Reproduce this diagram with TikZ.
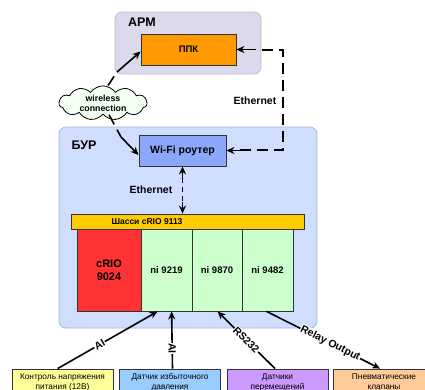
\documentclass[tikz,border=0pt]{standalone}
\usepackage{fontspec}
\setmainfont{Liberation Sans}
\usetikzlibrary{shapes.symbols,arrows.meta,calc}
\definecolor{armbg}{RGB}{218,218,236}
\definecolor{armbd}{RGB}{185,185,210}
\definecolor{burbg}{RGB}{207,221,255}
\definecolor{burbd}{RGB}{165,180,220}
\definecolor{ppkc}{RGB}{255,153,0}
\definecolor{wific}{RGB}{140,166,250}
\definecolor{chasc}{RGB}{255,204,0}
\definecolor{crioc}{RGB}{255,51,51}
\definecolor{modc}{RGB}{204,255,204}
\definecolor{boxa}{RGB}{255,255,153}
\definecolor{boxb}{RGB}{153,204,255}
\definecolor{boxc}{RGB}{204,153,255}
\definecolor{boxd}{RGB}{255,204,153}
\definecolor{cloudc}{RGB}{242,255,242}
\begin{document}
\begin{tikzpicture}[x=1pt,y=-1pt,
  group/.style={rounded corners=7pt, line width=0.8pt},
  blk/.style={draw=black!80, line width=0.8pt, inner sep=0pt, align=center, font=\bfseries},
  sensor/.style={draw=black!80, line width=0.8pt, minimum width=101pt, minimum height=26pt, inner sep=0pt, align=center, font=\fontsize{8.3}{10}\selectfont},
  arr/.style={line width=1.6pt, -{Stealth[length=8pt,width=7pt]}},
  darr/.style={line width=1.6pt, dash pattern=on 11pt off 6pt},
  lbl/.style={font=\bfseries\fontsize{10.5}{12}\selectfont, fill=white, inner sep=0.6pt},
  ttl/.style={font=\bfseries\fontsize{12.5}{14}\selectfont, inner sep=0pt}
]
\useasboundingbox (0,0) rectangle (425,389);
\clip (0,0) rectangle (425,389);
% groups
\node[group, draw=armbd, fill=armbg, minimum width=146pt, minimum height=62pt] (arm) at (188,43) {};
\node[ttl] (armt) at (142,22) {АРМ};
\node[group, draw=burbd, fill=burbg, minimum width=258pt, minimum height=201pt] (bur) at (188,227.5) {};
\node[ttl] (burt) at (84,145) {БУР};
% blocks
\node[blk, fill=ppkc, minimum width=95pt, minimum height=31pt, font=\bfseries\fontsize{9.5}{11}\selectfont] (ppk) at (188.5,49.5) {ППК};
\node[blk, fill=wific, minimum width=87pt, minimum height=31pt, font=\bfseries\fontsize{10.5}{12}\selectfont] (wifi) at (182.5,150.5) {Wi-Fi роутер};
\node[blk, fill=chasc, minimum width=233pt, minimum height=15pt] (chas) at (187.5,221.5) {};
\node[font=\bfseries\fontsize{8.5}{10}\selectfont, inner sep=0pt] (chast) at (147,221.5) {Шасси cRIO 9113};
\node[blk, fill=crioc, minimum width=64pt, minimum height=82pt, font=\bfseries\fontsize{11}{13}\selectfont] (crio) at (109,270) {cRIO\\9024};
\node[blk, fill=modc, minimum width=51pt, minimum height=82pt, font=\bfseries\fontsize{9.5}{11}\selectfont] (m1) at (166.5,270) {ni 9219};
\node[blk, fill=modc, minimum width=50pt, minimum height=82pt, font=\bfseries\fontsize{9.5}{11}\selectfont] (m2) at (217,270) {ni 9870};
\node[blk, fill=modc, minimum width=51pt, minimum height=82pt, font=\bfseries\fontsize{9.5}{11}\selectfont] (m3) at (267.5,270) {ni 9482};
% cloud
\node[cloud, cloud puffs=11, cloud puff arc=110, aspect=2.6, draw=black, line width=0.8pt, fill=cloudc, minimum width=88pt, minimum height=34pt, inner sep=0pt, align=center, font=\bfseries\fontsize{8.8}{10}\selectfont] (cl) at (103,103) {wireless\\connection};
% sensors
\node[sensor, fill=boxa] (s1) at (62.5,382) {Контроль напряжения\\питания (12В)};
\node[sensor, fill=boxb] (s2) at (170,382) {Датчик избыточного\\давления};
\node[sensor, fill=boxc] (s3) at (277.5,382) {Датчики\\перемещений};
\node[sensor, fill=boxd] (s4) at (384,382) {Пневматические\\клапаны};
% wireless links
\coordinate (w1) at (117,72);
\coordinate (w2) at (121,137);
\draw[darr] ([xshift=5pt]cl.north) -- (w1);
\draw[arr] (w1) -- ([yshift=-2pt]ppk.west);
\draw[darr] ([xshift=6pt]cl.south) -- (w2);
\draw[arr] (w2) -- ([yshift=-4.5pt]wifi.west);
% ethernet to ARM
\coordinate (e1) at (283,50);
\coordinate (e2) at (283,150);
\draw[darr] ([xshift=14pt]wifi.east |- e2) -- (e2) -- (e1) -- ++(-22,0);
\draw[arr] ([xshift=20pt]ppk.east) -- (ppk.east);
\draw[arr] ([xshift=20pt]wifi.east) -- (wifi.east);
\node[font=\bfseries\fontsize{10.5}{12}\selectfont, inner sep=0pt] (eth1) at (255,101) {Ethernet};
% ethernet wifi - chassis
\coordinate (cb) at (chas.north -| wifi.south);
\draw[line width=1.6pt, dash pattern=on 5pt off 4pt] ([yshift=-12pt]wifi.south) -- ([yshift=12pt]cb);
\draw[arr] ([yshift=-12pt]wifi.south) -- (wifi.south);
\draw[arr] ([yshift=12pt]cb) -- (cb);
\node[font=\bfseries\fontsize{10.5}{12}\selectfont, inner sep=0pt] (eth2) at (151,190) {Ethernet};
% sensor links
\draw[arr] ([xshift=46pt]s1.north west) -- node[lbl, sloped, pos=0.42] {AI} ([xshift=17pt]m1.south west);
\draw[arr] ([xshift=2.5pt]s2.north) -- node[lbl, rotate=-90, pos=0.35] {AI} ([xshift=31pt]m1.south west);
\draw[arr] ([xshift=-2.5pt]s3.north) -- node[lbl, sloped, pos=0.5] {RS232} ([xshift=26pt]m2.south west);
\draw[arr] ([xshift=25pt]m3.south west) -- node[lbl, sloped, pos=0.56] {Relay Output} ([xshift=47pt]s4.north west);
\end{tikzpicture}
\end{document}
